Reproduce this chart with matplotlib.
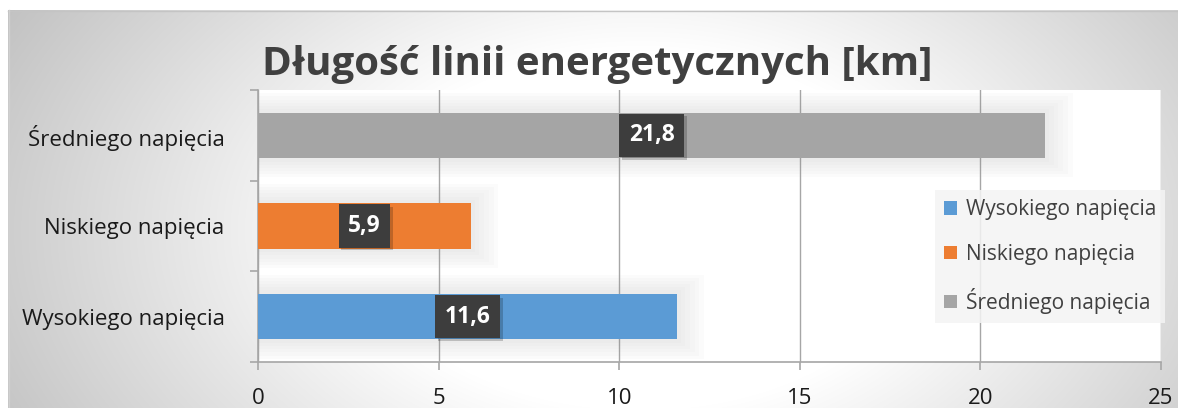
import numpy as np
import matplotlib
matplotlib.use("Agg")
import matplotlib.pyplot as plt
from matplotlib.patches import Patch, Rectangle
import matplotlib.patheffects as pe

# ---- data ----
categories = ['Wysokiego napięcia', 'Niskiego napięcia', 'Średniego napięcia']
values = [11.6, 5.9, 21.8]
value_labels = ['11,6', '5,9', '21,8']
colors = ['#5B9BD5', '#ED7D31', '#A5A5A5']
title = 'Długość linii energetycznych [km]'
xticks = [0, 5, 10, 15, 20, 25]

W, H = 1178, 408
plt.rcParams['font.family'] = ['Open Sans', 'DejaVu Sans']

fig = plt.figure(figsize=(W / 100, H / 100), dpi=100)
fig.patch.set_facecolor('white')

# ---- background radial gradient (chart area) ----
bg = fig.add_axes([0, 0, 1, 1], zorder=-10)
bg.set_xlim(0, W)
bg.set_ylim(H, 0)
bg.axis('off')
xx, yy = np.meshgrid(np.arange(8, W), np.arange(10, H))
d = np.sqrt(((xx - 640) / 700.0) ** 2 + ((yy - 230) / 450.0) ** 2)
g = 255 - np.clip(d - 0.4, 0, None) * 97
g = np.clip(g, 0, 255) / 255.0
img = np.dstack([g, g, g])
bg.imshow(img, extent=(8, W, H, 10), aspect='auto', interpolation='bilinear')
bg.plot([8, W], [10.5, 10.5], color='#c4c4c4', lw=1)
bg.plot([8.5, 8.5], [10, H], color='#d0d0d0', lw=1)

# ---- title ----
fig.text(597 / W, 1 - 64 / H, title, ha='center', va='center',
         fontsize=29, fontweight='bold', color='#404040')

# ---- main axes ----
x0, x1, y0, y1 = 258, 1161, 90, 362
ax = fig.add_axes([x0 / W, 1 - y1 / H, (x1 - x0) / W, (y1 - y0) / H])
ax.set_facecolor('white')
ypos = np.arange(len(categories))

# soft shadows around bars
for i, v in enumerate(values):
    for k in range(6):
        e = 0.04 + k * 0.035
        ex = 0.1 + k * 0.13
        ax.add_patch(Rectangle((0, ypos[i] - 0.25 - e), v + ex, 0.5 + 2 * e,
                               facecolor='#9a9a9a', edgecolor='none',
                               alpha=0.03, zorder=1))

ax.barh(ypos, values, height=0.5, color=colors, zorder=3)

# value labels
for i, (v, lab) in enumerate(zip(values, value_labels)):
    t = ax.text(v / 2, ypos[i], lab, ha='center', va='center',
                fontsize=16.5, fontweight='bold', color='white',
                bbox=dict(boxstyle='square,pad=0.42', fc='#3d3d3d', ec='none'),
                zorder=5)
    t.get_bbox_patch().set_path_effects([
        pe.SimplePatchShadow(offset=(2, -2), shadow_rgbFace='#000000', alpha=0.2),
        pe.Normal()])

ax.set_xlim(0, 25)
ax.set_ylim(-0.5, len(categories) - 0.5)
ax.set_xticks(xticks)
ax.set_xticklabels([str(t) for t in xticks])
ax.set_yticks(ypos)
ax.set_yticklabels(categories)
ax.set_yticks(np.arange(-0.5, len(categories)), minor=True)

ax.grid(axis='x', color='#a6a6a6', lw=1, zorder=2)
ax.set_axisbelow(True)
ax.spines['top'].set_visible(False)
ax.spines['right'].set_visible(False)
ax.spines['left'].set_color('#a6a6a6')
ax.spines['bottom'].set_color('#a6a6a6')
ax.spines['left'].set_linewidth(1.2)
ax.spines['bottom'].set_linewidth(1.2)

ax.tick_params(axis='y', which='major', length=0, pad=24, labelsize=16,
               labelcolor='#1a1a1a')
ax.tick_params(axis='y', which='minor', length=6, color='#a6a6a6', width=1.2,
               direction='out')
ax.tick_params(axis='x', which='major', length=6, color='#a6a6a6', width=1.2,
               pad=13, labelsize=16, labelcolor='#1a1a1a')

# legend
handles = [Patch(facecolor=c, edgecolor='none', label=l) for c, l in zip(colors, categories)]
leg = fig.legend(handles=handles, loc='upper left',
                 bbox_to_anchor=(935 / W, 1 - 190 / H),
                 frameon=True, fontsize=15, handlelength=0.62, handleheight=0.62,
                 handletextpad=0.4, labelspacing=1.12, borderpad=0.45,
                 borderaxespad=0, labelcolor='#404040', fancybox=False)
leg.get_frame().set_facecolor('#f4f4f4')
leg.get_frame().set_edgecolor('none')
leg.get_frame().set_alpha(0.85)

fig.savefig('out.png', dpi=100)
